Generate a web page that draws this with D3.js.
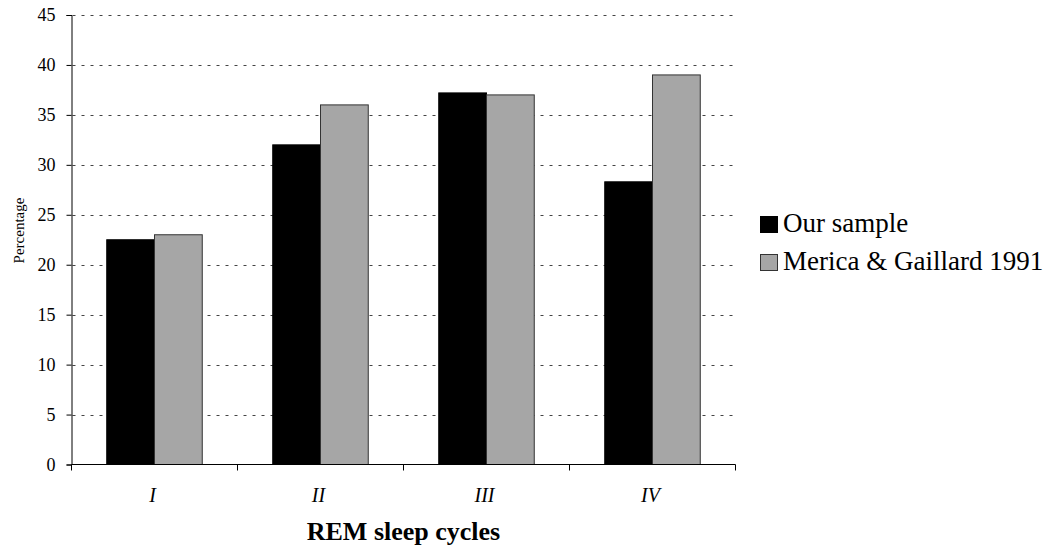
<!DOCTYPE html>
<html><head><meta charset="utf-8">
<script src="https://cdn.jsdelivr.net/npm/d3@7"></script>
<style>body{margin:0;background:#fff;} svg{display:block;}</style>
</head><body>
<svg id="c" width="1056" height="552"></svg>
<script>
const categories = ["I", "II", "III", "IV"];
const seriesNames = ["Our sample", "Merica & Gaillard 1991"];
const ourSample = [22.5, 32.0, 37.2, 28.3];
const merica = [23.0, 36.0, 37.0, 39.0];
const yTicks = [0, 5, 10, 15, 20, 25, 30, 35, 40, 45];
const colors = ["#000000", "#a6a6a6"];
const strokes = ["#000000", "#333333"];

const svg = d3.select("#c");
const font = "Liberation Serif, Times New Roman, serif";
const m = {l: 71.5, r: 735.5, t: 15, b: 464.5};

const x = d3.scaleBand().domain(categories).range([m.l, m.r]).paddingInner(0).paddingOuter(0);
const xs = d3.scaleBand().domain([0, 1]).range([0, x.bandwidth()]).paddingInner(0).paddingOuter(0.738);
const y = d3.scaleLinear().domain([0, 45]).range([m.b, m.t]);

// gridlines
svg.append("g").selectAll("line").data(yTicks.filter(d => d > 0)).join("line")
  .attr("x1", m.l + 1).attr("x2", m.r + 2)
  .attr("y1", d => Math.round(y(d)) + 0.5).attr("y2", d => Math.round(y(d)) + 0.5)
  .attr("stroke", "#444").attr("stroke-width", 1).attr("stroke-dasharray", "3,6");

// bars
const data = categories.map((c, i) => ({c, v: [ourSample[i], merica[i]]}));
const g = svg.append("g");
data.forEach(d => {
  d.v.forEach((v, k) => {
    g.append("rect")
      .attr("x", x(d.c) + xs(k))
      .attr("y", y(v))
      .attr("width", xs.bandwidth())
      .attr("height", y(0) - y(v))
      .attr("fill", colors[k]).attr("stroke", strokes[k]).attr("stroke-width", 1);
  });
});

// y axis
const yAxis = d3.axisLeft(y).tickValues(yTicks).tickSize(5).tickPadding(11);
const ya = svg.append("g").attr("transform", `translate(${m.l},0)`).call(yAxis);
ya.attr("font-family", null).attr("font-size", null);
ya.select(".domain").attr("stroke", "#000");
ya.selectAll("text").style("font-family", font).style("font-size", "18px").attr("fill", "#000");

// x axis
const xAxis = d3.axisBottom(x).tickSize(0).tickPadding(0);
const xa = svg.append("g").attr("transform", `translate(0,${m.b})`).call(xAxis);
xa.attr("font-family", null).attr("font-size", null);
xa.select(".domain").attr("stroke", "#000").attr("d", `M${m.l},0H${m.r}`);
xa.selectAll("text").style("font-family", font).style("font-size", "20px").style("font-style", "italic")
  .attr("dy", 0).attr("y", 37.5).attr("dx", -2).attr("fill", "#000");
// category boundary ticks
const bounds = categories.map(c => x(c)).concat([m.r]);
xa.append("g").selectAll("line").data(bounds).join("line")
  .attr("x1", d => d).attr("x2", d => d).attr("y1", 0).attr("y2", 6).attr("stroke", "#000");

// axis titles
svg.append("text").attr("x", (m.l + m.r) / 2).attr("y", 540).attr("text-anchor", "middle")
  .style("font-family", font).style("font-size", "26px").style("font-weight", "bold").text("REM sleep cycles");
svg.append("text").attr("transform", `translate(24,230.5) rotate(-90)`).attr("text-anchor", "middle")
  .style("font-family", font).style("font-size", "15px").text("Percentage");

// legend
const lg = svg.append("g").attr("transform", "translate(760,216)");
seriesNames.forEach((s, k) => {
  lg.append("rect").attr("x", 0.5).attr("y", k * 38 + 0.5).attr("width", 17).attr("height", 16)
    .attr("fill", colors[k]).attr("stroke", strokes[k]);
  lg.append("text").attr("x", 23).attr("y", k * 38 + 16).style("font-family", font).style("font-size", "27px")
    .attr("fill", "#000").text(s);
});
</script>
</body></html>
